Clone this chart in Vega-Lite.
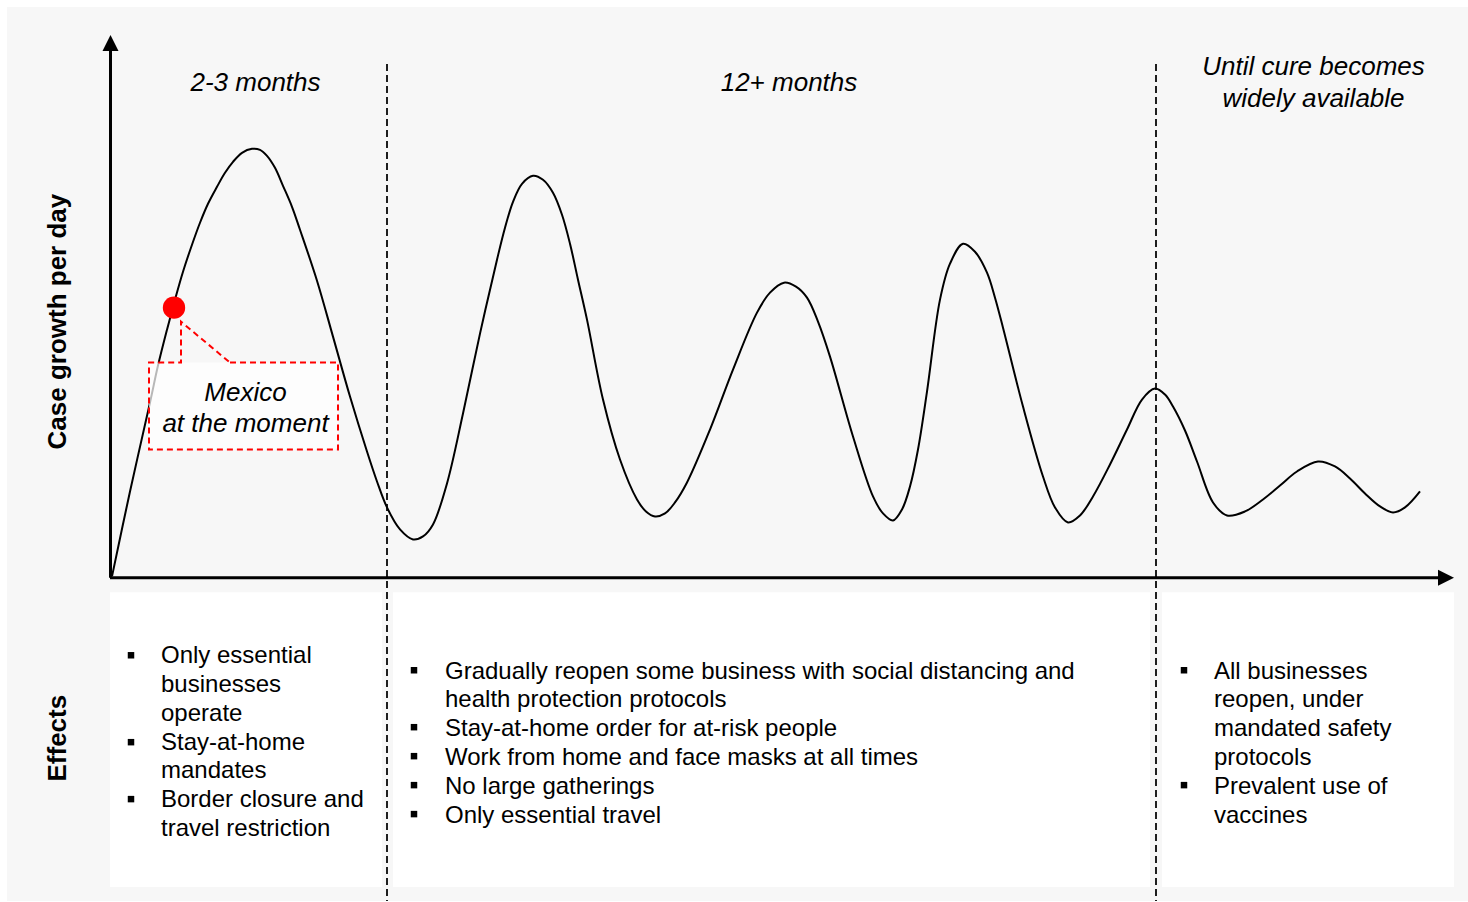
{
  "$schema": "https://vega.github.io/schema/vega-lite/v6.json",
  "width": 1468,
  "height": 902,
  "autosize": {"type": "fit", "contains": "padding"},
  "padding": 0,
  "background": "#ffffff",
  "config": {"view": {"stroke": null}, "text": {"font": "Liberation Sans", "color": "#000000"}},
  "datasets": {
    "panel": [{"t": 7, "t2": 1468, "v": 7, "v2": 902}],
    "boxes": [
      {"t": 110, "t2": 382, "v": 593, "v2": 888},
      {"t": 393, "t2": 1150, "v": 593, "v2": 888},
      {"t": 1162, "t2": 1454, "v": 593, "v2": 888}
    ],
    "curve": [
      {"t": 112, "v": 577}, {"t": 130, "v": 492}, {"t": 150, "v": 403}, {"t": 158, "v": 366},
      {"t": 167, "v": 330}, {"t": 175, "v": 300}, {"t": 183, "v": 272}, {"t": 192, "v": 245},
      {"t": 200, "v": 223}, {"t": 208, "v": 204}, {"t": 217, "v": 187}, {"t": 225, "v": 173},
      {"t": 233, "v": 162}, {"t": 242, "v": 153}, {"t": 252, "v": 149}, {"t": 260, "v": 150},
      {"t": 267, "v": 156}, {"t": 275, "v": 168}, {"t": 283, "v": 186}, {"t": 292, "v": 207},
      {"t": 300, "v": 230}, {"t": 317, "v": 281}, {"t": 333, "v": 337}, {"t": 350, "v": 397},
      {"t": 367, "v": 452}, {"t": 377, "v": 482}, {"t": 387, "v": 508}, {"t": 400, "v": 530},
      {"t": 413, "v": 540}, {"t": 423, "v": 537}, {"t": 433, "v": 525}, {"t": 447, "v": 484},
      {"t": 463, "v": 414}, {"t": 480, "v": 334}, {"t": 497, "v": 260}, {"t": 505, "v": 228},
      {"t": 513, "v": 202}, {"t": 522, "v": 184}, {"t": 533, "v": 176}, {"t": 543, "v": 180},
      {"t": 553, "v": 193}, {"t": 562, "v": 215}, {"t": 570, "v": 244}, {"t": 578, "v": 280},
      {"t": 587, "v": 320}, {"t": 603, "v": 400}, {"t": 620, "v": 460}, {"t": 637, "v": 500},
      {"t": 646, "v": 512}, {"t": 655, "v": 517}, {"t": 665, "v": 514}, {"t": 675, "v": 503},
      {"t": 687, "v": 483}, {"t": 710, "v": 430}, {"t": 733, "v": 370}, {"t": 757, "v": 313},
      {"t": 770, "v": 293}, {"t": 784, "v": 283}, {"t": 796, "v": 287}, {"t": 807, "v": 298},
      {"t": 818, "v": 322}, {"t": 830, "v": 357}, {"t": 853, "v": 437}, {"t": 873, "v": 497},
      {"t": 883, "v": 514}, {"t": 893, "v": 521}, {"t": 902, "v": 510}, {"t": 910, "v": 487},
      {"t": 918, "v": 450}, {"t": 927, "v": 392}, {"t": 940, "v": 300}, {"t": 950, "v": 264},
      {"t": 963, "v": 244}, {"t": 975, "v": 252}, {"t": 987, "v": 273}, {"t": 995, "v": 298},
      {"t": 1003, "v": 328}, {"t": 1023, "v": 407}, {"t": 1043, "v": 477}, {"t": 1055, "v": 508},
      {"t": 1068, "v": 523}, {"t": 1080, "v": 516}, {"t": 1093, "v": 497}, {"t": 1110, "v": 465},
      {"t": 1127, "v": 430}, {"t": 1142, "v": 400}, {"t": 1155, "v": 389}, {"t": 1165, "v": 395},
      {"t": 1173, "v": 407}, {"t": 1185, "v": 431}, {"t": 1197, "v": 462}, {"t": 1213, "v": 503},
      {"t": 1227, "v": 516}, {"t": 1245, "v": 512}, {"t": 1263, "v": 500}, {"t": 1280, "v": 486},
      {"t": 1297, "v": 472}, {"t": 1318, "v": 462}, {"t": 1335, "v": 467}, {"t": 1350, "v": 479},
      {"t": 1365, "v": 494}, {"t": 1380, "v": 507}, {"t": 1393, "v": 513}, {"t": 1405, "v": 508},
      {"t": 1420, "v": 492}
    ],
    "calloutBox": [{"t": 149, "t2": 338, "v": 363, "v2": 450}],
    "calloutOutline": [
      {"step": 1, "t": 230, "v": 363}, {"step": 2, "t": 338, "v": 363}, {"step": 3, "t": 338, "v": 450},
      {"step": 4, "t": 149, "v": 450}, {"step": 5, "t": 149, "v": 363}, {"step": 6, "t": 181, "v": 363},
      {"step": 7, "t": 181, "v": 322}, {"step": 8, "t": 230, "v": 363}
    ],
    "axes": [
      {"t": 110.5, "t2": 110.5, "v": 48, "v2": 578.5},
      {"t": 110, "t2": 1442, "v": 578.5, "v2": 578.5}
    ],
    "phases": [
      {"t": 387, "t2": 387, "v": 64, "v2": 902},
      {"t": 1156, "t2": 1156, "v": 64, "v2": 902}
    ],
    "arrowUp": [{"t": 110.5, "v": 43}],
    "arrowRight": [{"t": 1446, "v": 578.5}],
    "now": [{"t": 174, "v": 308}],
    "headers": [
      {"t": 255.5, "v": 91, "text": "2-3 months"},
      {"t": 789, "v": 91, "text": "12+ months"},
      {"t": 1313.5, "v": 75, "text": "Until cure becomes"},
      {"t": 1313.5, "v": 107, "text": "widely available"}
    ],
    "calloutText": [
      {"t": 245.5, "v": 401, "text": "Mexico"},
      {"t": 245.5, "v": 432, "text": "at the moment"}
    ],
    "titles": [
      {"t": 66, "v": 322, "text": "Case growth per day"},
      {"t": 66, "v": 739, "text": "Effects"}
    ],
    "bullets": [
      {"t": 131, "v": 656}, {"t": 131, "v": 743}, {"t": 131, "v": 800},
      {"t": 414, "v": 671}, {"t": 414, "v": 728}, {"t": 414, "v": 757}, {"t": 414, "v": 786}, {"t": 414, "v": 815},
      {"t": 1184, "v": 671}, {"t": 1184, "v": 786}
    ],
    "effects": [
      {"t": 161, "v": 664, "text": "Only essential"},
      {"t": 161, "v": 693, "text": "businesses"},
      {"t": 161, "v": 722, "text": "operate"},
      {"t": 161, "v": 750.5, "text": "Stay-at-home"},
      {"t": 161, "v": 779, "text": "mandates"},
      {"t": 161, "v": 808, "text": "Border closure and"},
      {"t": 161, "v": 836.5, "text": "travel restriction"},
      {"t": 445, "v": 679.5, "text": "Gradually reopen some business with social distancing and"},
      {"t": 445, "v": 708, "text": "health protection protocols"},
      {"t": 445, "v": 737, "text": "Stay-at-home order for at-risk people"},
      {"t": 445, "v": 766, "text": "Work from home and face masks at all times"},
      {"t": 445, "v": 795, "text": "No large gatherings"},
      {"t": 445, "v": 823.5, "text": "Only essential travel"},
      {"t": 1214, "v": 679.5, "text": "All businesses"},
      {"t": 1214, "v": 708, "text": "reopen, under"},
      {"t": 1214, "v": 737, "text": "mandated safety"},
      {"t": 1214, "v": 766, "text": "protocols"},
      {"t": 1214, "v": 795, "text": "Prevalent use of"},
      {"t": 1214, "v": 823.5, "text": "vaccines"}
    ]
  },
  "encoding": {
    "x": {"field": "t", "type": "quantitative", "scale": {"domain": [0, 1468], "nice": false, "zero": false}, "axis": null},
    "y": {"field": "v", "type": "quantitative", "scale": {"domain": [0, 902], "nice": false, "zero": false, "reverse": true}, "axis": null}
  },
  "layer": [
    {"data": {"name": "panel"}, "mark": {"type": "rect", "fill": "#f7f7f7"},
     "encoding": {"x2": {"field": "t2"}, "y2": {"field": "v2"}}},
    {"data": {"name": "boxes"}, "mark": {"type": "rect", "fill": "#ffffff"},
     "encoding": {"x2": {"field": "t2"}, "y2": {"field": "v2"}}},
    {"data": {"name": "curve"}, "mark": {"type": "line", "interpolate": "catmull-rom", "stroke": "#000000", "strokeWidth": 2},
     "encoding": {"order": {"field": "t", "type": "quantitative"}}},
    {"data": {"name": "calloutBox"}, "mark": {"type": "rect", "fill": "#ffffff", "opacity": 0.72},
     "encoding": {"x2": {"field": "t2"}, "y2": {"field": "v2"}}},
    {"data": {"name": "calloutOutline"}, "mark": {"type": "line", "stroke": "#ff0000", "strokeWidth": 2, "strokeDash": [6, 4]},
     "encoding": {"order": {"field": "step", "type": "quantitative"}}},
    {"data": {"name": "axes"}, "mark": {"type": "rule", "stroke": "#000000", "strokeWidth": 3},
     "encoding": {"x2": {"field": "t2"}, "y2": {"field": "v2"}}},
    {"data": {"name": "phases"}, "mark": {"type": "rule", "stroke": "#000000", "strokeWidth": 1.75, "strokeDash": [7, 4]},
     "encoding": {"x2": {"field": "t2"}, "y2": {"field": "v2"}}},
    {"data": {"name": "arrowUp"}, "mark": {"type": "point", "shape": "M0,-1L1,1L-1,1Z", "size": 256, "filled": true, "fill": "#000000", "opacity": 1}},
    {"data": {"name": "arrowRight"}, "mark": {"type": "point", "shape": "M1,0L-1,-1L-1,1Z", "size": 256, "filled": true, "fill": "#000000", "opacity": 1}},
    {"data": {"name": "now"}, "mark": {"type": "point", "shape": "circle", "size": 500, "filled": true, "fill": "#ff0000", "opacity": 1}},
    {"data": {"name": "bullets"}, "mark": {"type": "point", "shape": "square", "size": 42, "filled": true, "fill": "#000000", "opacity": 1}},
    {"data": {"name": "headers"}, "mark": {"type": "text", "fontSize": 26, "fontStyle": "italic", "align": "center", "baseline": "alphabetic"},
     "encoding": {"text": {"field": "text"}}},
    {"data": {"name": "calloutText"}, "mark": {"type": "text", "fontSize": 26, "fontStyle": "italic", "align": "center", "baseline": "alphabetic"},
     "encoding": {"text": {"field": "text"}}},
    {"data": {"name": "titles"}, "mark": {"type": "text", "fontSize": 26, "fontWeight": "bold", "angle": 270, "align": "center", "baseline": "alphabetic"},
     "encoding": {"text": {"field": "text"}}},
    {"data": {"name": "effects"}, "mark": {"type": "text", "fontSize": 24, "align": "left", "baseline": "alphabetic"},
     "encoding": {"text": {"field": "text"}}}
  ]
}
